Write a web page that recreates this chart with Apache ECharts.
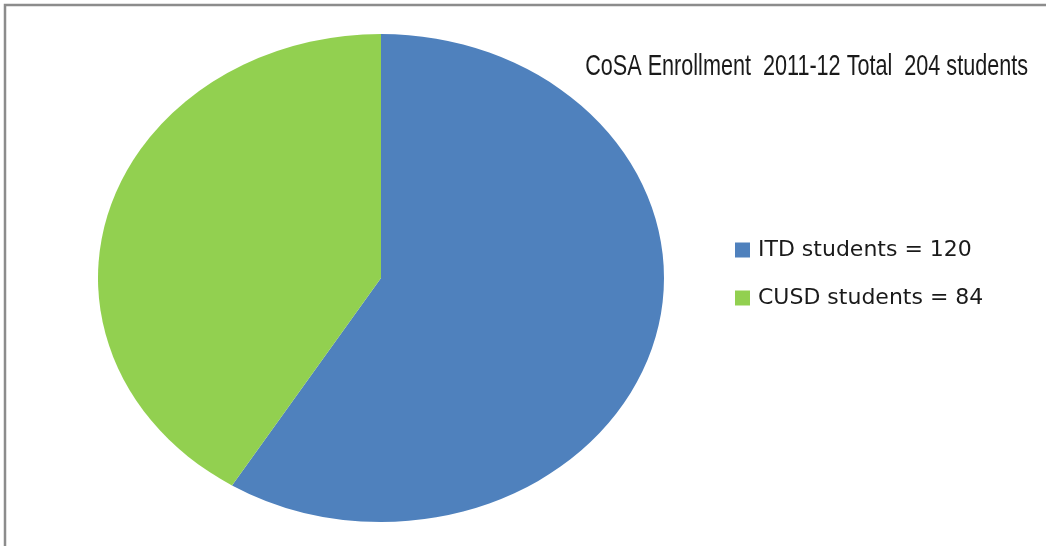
<!DOCTYPE html>
<html>
<head>
<meta charset="utf-8">
<script src="https://cdn.jsdelivr.net/npm/echarts@6/dist/echarts.min.js"></script>
<style>
  html, body { margin: 0; padding: 0; background: #fff; }
  #chart { width: 1046px; height: 546px; }
</style>
</head>
<body>
<div id="chart"></div>
<script>
// Enrollment breakdown
const categories = ['ITD students', 'CUSD students'];
const values = [120, 84];
const colors = ['#4f81bd', '#92d050'];
const titleText = 'CoSA Enrollment  2011-12 Total  204 students';

const total = values.reduce((a, b) => a + b, 0);

// Elliptical pie geometry
const CX = 381, CY = 278, RX = 283, RY = 244;

function sliceRenderer(seriesIdx) {
  return function (params, api) {
    let before = 0;
    for (let i = 0; i < seriesIdx; i++) before += values[i];
    const v = api.value(0);
    const start = -Math.PI / 2 + (before / total) * Math.PI * 2;
    const end = start + (v / total) * Math.PI * 2;
    return {
      type: 'sector',
      shape: { cx: CX, cy: CY, r: RX, r0: 0, startAngle: start, endAngle: end, clockwise: true },
      originX: CX,
      originY: CY,
      scaleX: 1,
      scaleY: RY / RX,
      style: { fill: api.visual('color') }
    };
  };
}

const chart = echarts.init(document.getElementById('chart'), null, { renderer: 'canvas' });

chart.setOption({
  animation: false,
  backgroundColor: '#ffffff',
  legend: {
    orient: 'vertical',
    left: 735,
    top: 239,
    padding: 0,
    icon: 'rect',
    itemWidth: 15,
    itemHeight: 15,
    itemGap: 26,
    data: categories,
    formatter: name => name + ' = ' + values[categories.indexOf(name)],
    textStyle: {
      fontFamily: 'DejaVu Sans',
      fontSize: 22,
      color: '#1a1a1a',
      padding: [0, 0, 0, 3]
    }
  },
  graphic: [
    {
      type: 'polyline',
      shape: { points: [[5, 546], [5, 5], [1046, 5]] },
      style: { stroke: '#8c8c8c', lineWidth: 2.5, fill: null }
    },
    {
      // condensed title, right-aligned
      type: 'text',
      x: 1028,
      y: 67,
      originX: 0,
      originY: 0,
      scaleX: 0.745,
      style: {
        text: titleText,
        fontFamily: 'Liberation Sans',
        fontSize: 29,
        fill: '#1a1a1a',
        align: 'right',
        verticalAlign: 'middle'
      }
    }
  ],
  series: categories.map((name, i) => ({
    type: 'custom',
    name: name,
    coordinateSystem: 'none',
    color: colors[i],
    renderItem: sliceRenderer(i),
    data: [[values[i]]]
  }))
});
</script>
</body>
</html>
